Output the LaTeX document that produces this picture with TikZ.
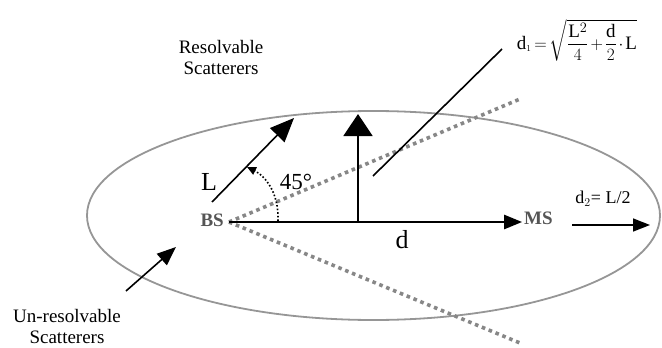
\documentclass[tikz,border=0pt]{standalone}
\usepackage{amsmath}
\usepackage{fontspec}
\setmainfont{Liberation Serif}
\usepackage{tikz}
\usetikzlibrary{positioning, arrows.meta, calc}
\definecolor{cellgray}{RGB}{150, 150, 150}
\definecolor{beamgray}{RGB}{135, 135, 135}
\definecolor{stagray}{RGB}{85, 85, 85}
\tikzset{
  lbl/.style={font=\fontsize{#1}{#1}\selectfont, align=center, inner sep=1pt},
  sta/.style={font=\fontsize{19}{21}\selectfont\bfseries, text=stagray, inner sep=2pt},
  arr/.style={-{Triangle[length=#1, width=0.8*#1]}, line width=1.6pt},
  beam/.style={beamgray, line width=3.6pt, dash pattern=on 3.6pt off 3.8pt},
  cell/.style={cellgray, line width=1.8pt},
}

\begin{document}
\begin{tikzpicture}[x=1pt, y=-1pt]
  \useasboundingbox (0,0) rectangle (662,348);

  % cell boundary
  \draw[cell] (373.5,215.5) ellipse [x radius=286.5, y radius=104.5];

  \coordinate (o) at (229,222);
  \coordinate (mid) at (358,222);
  \coordinate (top) at (358,114);
  \coordinate (upper) at (520,99);
  \coordinate (lower) at (520,343);

  \node[sta, anchor=east] (bs) at (226,220) {BS};
  \node[sta, anchor=west] (ms) at (522,218) {MS};

  % beam edges
  \draw[beam] (o) -- (upper);
  \draw[beam] (o) -- (lower);

  \draw[arr=18pt] (o) -- (ms.west |- o);
  \draw[-{Triangle[length=22pt, width=29pt]}, line width=1.6pt] (mid) -- (top);

  % L direction
  \coordinate (ls) at (212,202);
  \coordinate (le) at (294,118);
  \draw[-{Triangle[length=24pt, width=20pt]}, line width=1.6pt] (ls) -- (le);
  \node[lbl=26] (lab-L) at (209,182) {L};

  \coordinate (as) at (278,221);
  \coordinate (ae) at (247,167);
  \draw[-{Triangle[length=9pt, width=8pt]}, dotted, line width=1.6pt]
    (as) .. controls (279,192) and (265,176) .. (ae);
  \node[lbl=23] (lab-ang) at (296,182) {45°};

  \node[lbl=26] (lab-d) at (402,240) {d};

  % d1 pointer and formula
  \node[lbl=19] (form) at (577,40)
    {\medmuskip=2mu \thickmuskip=3mu
     $\displaystyle \mathrm{d}_{\scriptscriptstyle 1}=\sqrt{\frac{\mathrm{L}^2}{4}+\frac{\mathrm{d}}{2}\cdot\mathrm{L}}$};
  \coordinate (ps) at (373,176);
  \coordinate (pe) at (502,49);
  \draw[line width=1.6pt] (ps) -- (pe);

  \node[lbl=18] (lab-d2) at (603,199) {d$_2$= L/2};
  \coordinate (d2s) at (572,225);
  \coordinate (d2e) at (650,225);
  \draw[-{Triangle[length=17pt, width=13pt]}, line width=1.6pt] (d2s) -- (d2e);

  \node[lbl=19] (res) at (221,58) {Resolvable\\[2pt]Scatterers};
  \node[lbl=19] (unres) at (67,326) {Un-resolvable\\[2pt]Scatterers};
  \coordinate (us) at (126,291);
  \coordinate (ue) at (176,247);
  \draw[-{Triangle[length=19pt, width=15pt]}, line width=1.6pt] (us) -- (ue);
\end{tikzpicture}
\end{document}
